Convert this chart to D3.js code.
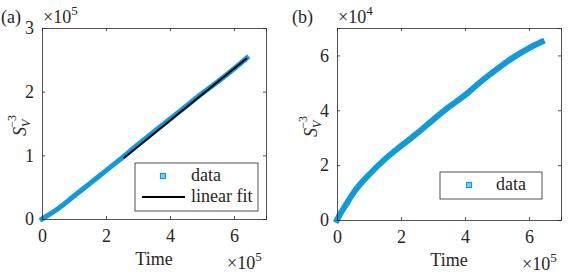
<!DOCTYPE html>
<html><head><meta charset="utf-8">
<script src="https://cdn.jsdelivr.net/npm/d3@7"></script>
<style>
body{margin:0;background:#fff;}
svg text{font-family:"Liberation Serif","Times New Roman",Times,"DejaVu Serif",serif !important;fill:#262626;}
</style></head>
<body>
<svg id="chart" width="588" height="274"></svg>
<script>
// ---- data ----
const xTicks = [0, 2e5, 4e5, 6e5];
const xTickLabels = ["0", "2", "4", "6"];
const yTicksA = [0, 1e5, 2e5, 3e5];
const yTickLabelsA = ["0", "1", "2", "3"];
const yTicksB = [0, 2e4, 4e4, 6e4];
const yTickLabelsB = ["0", "2", "4", "6"];

const timeA = [0, 0.5e5, 1e5, 1.5e5, 2e5, 2.5e5, 3e5, 3.5e5, 4e5, 4.5e5, 5e5, 5.5e5, 6e5, 6.4e5];
const svA   = [0, 0.16e5, 0.36e5, 0.56e5, 0.76e5, 0.96e5, 1.17e5, 1.37e5, 1.57e5, 1.77e5, 1.97e5, 2.16e5, 2.36e5, 2.53e5];
const fitTime = [2.55e5, 6.4e5];
const fitSv   = [0.955e5, 2.525e5];

const timeB = [0, 0.1e5, 0.25e5, 0.45e5, 0.7e5, 1e5, 1.5e5, 2e5, 2.5e5, 3e5, 3.5e5, 4e5, 4.5e5, 5e5, 5.5e5, 6e5, 6.4e5];
const svB   = [0, 0.22e4, 0.5e4, 0.88e4, 1.27e4, 1.65e4, 2.22e4, 2.7e4, 3.16e4, 3.65e4, 4.12e4, 4.55e4, 5.05e4, 5.5e4, 5.92e4, 6.27e4, 6.5e4];

const svg = d3.select("#chart");
const axisColor = "#262626";
const dataColor = "#0f9ad9";
const FONT = '"Liberation Serif","Times New Roman",Times,serif';

function panel(opt) {
  const g = svg.append("g").attr("font-family", FONT);
  const x = d3.scaleLinear().domain([0, 7e5]).range([opt.left, opt.right]);
  const y = d3.scaleLinear().domain(opt.yDomain).range([opt.bottom, opt.top]);

  // data band
  const line = d3.line().x(d => x(d[0])).y(d => y(d[1])).curve(d3.curveMonotoneX);
  g.append("path").datum(opt.tx.map((t, i) => [t, opt.ty[i]]))
    .attr("d", line).attr("fill", "none").attr("stroke", dataColor)
    .attr("stroke-width", opt.bandW).attr("stroke-linecap", "square").attr("stroke-linejoin", "round");

  if (opt.fit) {
    g.append("path").datum(opt.fit[0].map((t, i) => [t, opt.fit[1][i]]))
      .attr("d", d3.line().x(d => x(d[0])).y(d => y(d[1])))
      .attr("fill", "none").attr("stroke", "#000").attr("stroke-width", 2);
  }

  // axes (inside ticks, box)
  const tl = 3;
  const axB = d3.axisBottom(x).tickValues(xTicks).tickSize(-tl).tickFormat((d, i) => xTickLabels[i]).tickPadding(10);
  const axT = d3.axisTop(x).tickValues(xTicks).tickSize(-tl).tickFormat("");
  const axL = d3.axisLeft(y).tickValues(opt.yTicks).tickSize(-tl).tickFormat((d, i) => opt.yLabels[i]).tickPadding(8);
  const axR = d3.axisRight(y).tickValues(opt.yTicks).tickSize(-tl).tickFormat("");
  const gb = g.append("g").attr("transform", `translate(0,${opt.bottom})`).call(axB);
  const gt = g.append("g").attr("transform", `translate(0,${opt.top})`).call(axT);
  const gl = g.append("g").attr("transform", `translate(${opt.left},0)`).call(axL);
  const gr = g.append("g").attr("transform", `translate(${opt.right},0)`).call(axR);
  [gb, gt, gl, gr].forEach(a => {
    a.attr("font-family", FONT).attr("font-size", 18);
    a.select(".domain").attr("stroke", axisColor).attr("stroke-width", 0.8);
    a.selectAll(".tick line").attr("stroke", axisColor).attr("stroke-width", 0.8);
    a.selectAll(".tick text").attr("font-size", 18).attr("fill", axisColor);
  });

  // exponent labels
  const e1 = g.append("text").attr("x", opt.left + 1).attr("y", opt.top - 5).attr("font-size", 18);
  e1.append("tspan").text("\u00d710");
  e1.append("tspan").attr("font-size", 13).attr("dy", -8).text(opt.yExp);
  const e2 = g.append("text").attr("x", opt.right - 39).attr("y", opt.bottom + 50).attr("font-size", 18);
  e2.append("tspan").text("\u00d710");
  e2.append("tspan").attr("font-size", 13).attr("dy", -8).text("5");

  // x label
  g.append("text").attr("x", (opt.left + opt.right) / 2).attr("y", opt.bottom + 46)
    .attr("text-anchor", "middle").attr("font-size", 18).text("Time");

  // y label S_V^{-3}
  const yl = g.append("text").attr("transform", `translate(${opt.yLabX},${opt.yLabY}) rotate(-90)`)
    .attr("font-size", 18).attr("text-anchor", "start");
  yl.append("tspan").attr("font-style", "italic").text("S");
  yl.append("tspan").attr("font-style", "italic").attr("font-size", 12).attr("dy", 4).text("V");
  yl.append("tspan").attr("font-size", 12).attr("dx", -8).attr("dy", -14).text("\u22123");

  // panel tag
  g.append("text").attr("x", opt.tagX).attr("y", 23).attr("font-size", 18).text(opt.tag);

  // legend
  const L = opt.legend;
  g.append("rect").attr("x", L.x).attr("y", L.y).attr("width", L.w).attr("height", L.h)
    .attr("fill", "#fff").attr("stroke", axisColor).attr("stroke-width", 0.8);
  g.append("rect").attr("x", L.mx - 2.5).attr("y", L.my - 2.5).attr("width", 5).attr("height", 5)
    .attr("fill", "#7fd0f2").attr("stroke", dataColor).attr("stroke-width", 1.2);
  g.append("text").attr("x", L.tx).attr("y", L.my + 5).attr("font-size", 18).text("data");
  if (L.fit) {
    g.append("line").attr("x1", L.x + 7).attr("x2", L.x + 50).attr("y1", L.fy).attr("y2", L.fy)
      .attr("stroke", "#000").attr("stroke-width", 2);
    g.append("text").attr("x", L.tx).attr("y", L.fy + 5).attr("font-size", 18).text("linear fit");
  }
}

panel({
  left: 42, right: 266, top: 28, bottom: 219,
  yDomain: [0, 3e5], yTicks: yTicksA, yLabels: yTickLabelsA, yExp: "5",
  tx: timeA, ty: svA, bandW: 5, fit: [fitTime, fitSv],
  yLabX: 26, yLabY: 136, tag: "(a)", tagX: 1,
  legend: {x: 135, y: 163, w: 123, h: 48, mx: 163, my: 176, tx: 191, fit: true, fy: 197}
});
panel({
  left: 337, right: 561, top: 28, bottom: 220,
  yDomain: [0, 7e4], yTicks: yTicksB, yLabels: yTickLabelsB, yExp: "4",
  tx: timeB, ty: svB, bandW: 6, fit: null,
  yLabX: 317, yLabY: 137, tag: "(b)", tagX: 292,
  legend: {x: 440, y: 172, w: 102, h: 27, mx: 469, my: 185, tx: 496, fit: false}
});
</script>
</body></html>
